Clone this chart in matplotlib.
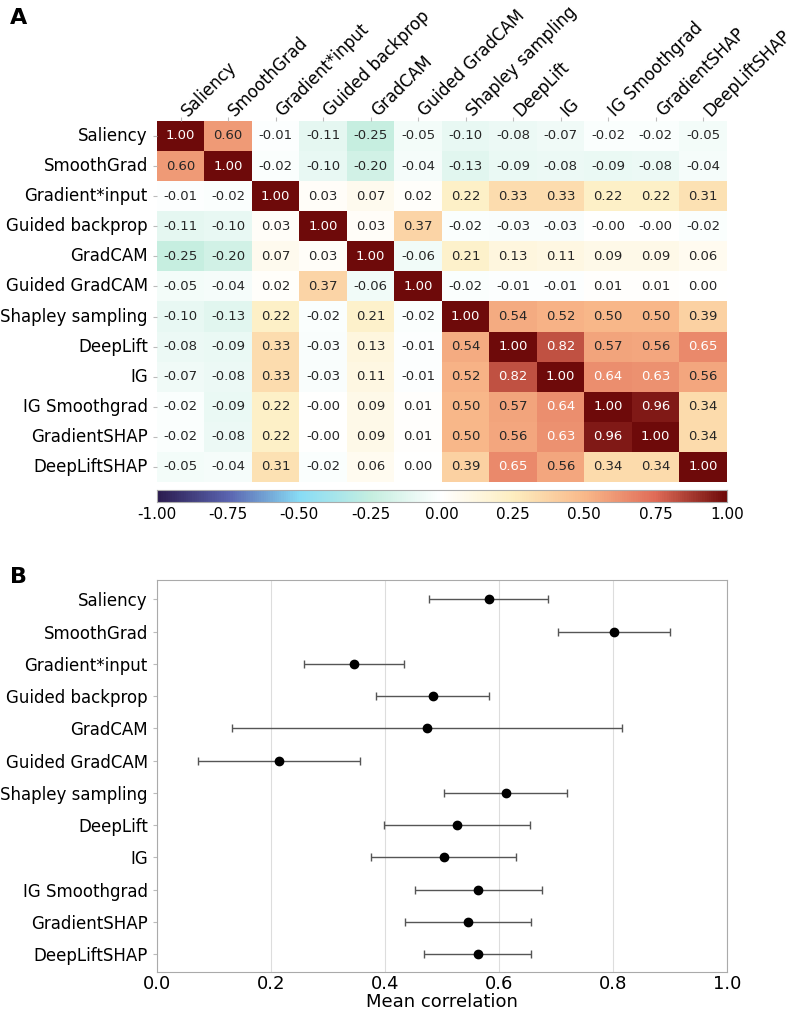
import numpy as np
import pandas as pd
import matplotlib
matplotlib.use("Agg")
import matplotlib.pyplot as plt
import matplotlib.transforms as mtransforms
import seaborn as sns
from matplotlib.colors import LinearSegmentedColormap

# Methods
methods = ['Saliency', 'SmoothGrad', 'Gradient*input', 'Guided backprop', 'GradCAM',
           'Guided GradCAM', 'Shapley sampling', 'DeepLift', 'IG', 'IG Smoothgrad',
           'GradientSHAP', 'DeepLiftSHAP']

# Correlation matrix (panel A)
corr = [
    [1.00, 0.60, -0.01, -0.11, -0.25, -0.05, -0.10, -0.08, -0.07, -0.02, -0.02, -0.05],
    [0.60, 1.00, -0.02, -0.10, -0.20, -0.04, -0.13, -0.09, -0.08, -0.09, -0.08, -0.04],
    [-0.01, -0.02, 1.00, 0.03, 0.07, 0.02, 0.22, 0.33, 0.33, 0.22, 0.22, 0.31],
    [-0.11, -0.10, 0.03, 1.00, 0.03, 0.37, -0.02, -0.03, -0.03, -0.00, -0.00, -0.02],
    [-0.25, -0.20, 0.07, 0.03, 1.00, -0.06, 0.21, 0.13, 0.11, 0.09, 0.09, 0.06],
    [-0.05, -0.04, 0.02, 0.37, -0.06, 1.00, -0.02, -0.01, -0.01, 0.01, 0.01, 0.00],
    [-0.10, -0.13, 0.22, -0.02, 0.21, -0.02, 1.00, 0.54, 0.52, 0.50, 0.50, 0.39],
    [-0.08, -0.09, 0.33, -0.03, 0.13, -0.01, 0.54, 1.00, 0.82, 0.57, 0.56, 0.65],
    [-0.07, -0.08, 0.33, -0.03, 0.11, -0.01, 0.52, 0.82, 1.00, 0.64, 0.63, 0.56],
    [-0.02, -0.09, 0.22, -0.00, 0.09, 0.01, 0.50, 0.57, 0.64, 1.00, 0.96, 0.34],
    [-0.02, -0.08, 0.22, -0.00, 0.09, 0.01, 0.50, 0.56, 0.63, 0.96, 1.00, 0.34],
    [-0.05, -0.04, 0.31, -0.02, 0.06, 0.00, 0.39, 0.65, 0.56, 0.34, 0.34, 1.00],
]

# Mean correlation and spread (panel B)
mean_corr = [0.582, 0.802, 0.346, 0.484, 0.474, 0.215, 0.612, 0.526, 0.503, 0.564, 0.546, 0.563]
err_corr = [0.104, 0.098, 0.088, 0.099, 0.342, 0.142, 0.108, 0.128, 0.127, 0.111, 0.110, 0.094]

df = pd.DataFrame(corr, index=methods, columns=methods)

cmap = LinearSegmentedColormap.from_list('div', [
    (0.0, '#2b1b4e'), (0.125, '#5a64b0'), (0.25, '#88dcf5'), (0.375, '#c5eee0'),
    (0.5, '#ffffff'), (0.625, '#fdeec0'), (0.75, '#f9b98a'), (0.875, '#e06c58'),
    (1.0, '#6e0a0a')])

fig = plt.figure(figsize=(8, 10.13), dpi=100)
ax1 = fig.add_axes([0.196, 0.5242, 0.7125, 0.3564])
cax = fig.add_axes([0.196, 0.5044, 0.7125, 0.0118])
ax2 = fig.add_axes([0.196, 0.0405, 0.7125, 0.387])

sns.heatmap(df, ax=ax1, cmap=cmap, vmin=-1, vmax=1, annot=True, fmt='.2f',
            annot_kws={'size': 9.5}, cbar_ax=cax,
            cbar_kws={'orientation': 'horizontal'})
ax1.xaxis.tick_top()
ax1.set_xticklabels(methods, rotation=45, ha='left', rotation_mode='anchor', fontsize=12)
ax1.set_yticklabels(methods, rotation=0, fontsize=12)
ax1.tick_params(axis='x', length=3, color='#bbbbbb', pad=2)
ax1.tick_params(axis='y', length=3, color='#bbbbbb')
# shift rotated labels a bit to the right and down, as in the original
shift = mtransforms.ScaledTranslation(0.10, -0.06, fig.dpi_scale_trans)
for lab in ax1.get_xticklabels():
    lab.set_transform(lab.get_transform() + shift)

cax.tick_params(labelsize=11, length=0)
cax.set_xticks([-1, -0.75, -0.5, -0.25, 0, 0.25, 0.5, 0.75, 1])
cax.set_xticklabels(['-1.00', '-0.75', '-0.50', '-0.25', '0.00', '0.25', '0.50', '0.75', '1.00'])
for s in cax.spines.values():
    s.set_visible(True)
    s.set_color('#aaaaaa')

# Panel B
y = np.arange(len(methods))
ax2.errorbar(mean_corr, y, xerr=err_corr, fmt='o', color='black', ms=6,
             ecolor='#555555', elinewidth=1, capsize=3, capthick=1)
ax2.set_yticks(y)
ax2.set_yticklabels(methods, fontsize=12)
ax2.set_ylim(11.55, -0.6)
ax2.set_xlim(0, 1)
ax2.set_xticks([0, 0.2, 0.4, 0.6, 0.8, 1.0])
ax2.tick_params(axis='x', labelsize=13, length=0, pad=2)
ax2.tick_params(axis='y', length=3, color='#bbbbbb')
ax2.grid(axis='x', color='#dddddd', linewidth=0.8)
ax2.set_axisbelow(True)
ax2.set_xlabel('Mean correlation', fontsize=13, labelpad=0)
for s in ax2.spines.values():
    s.set_color('#aaaaaa')

fig.text(0.012, 0.982, 'A', fontsize=16, fontweight='bold', va='center')
fig.text(0.012, 0.43, 'B', fontsize=16, fontweight='bold', va='center')

fig.savefig('out.png', dpi=100)
